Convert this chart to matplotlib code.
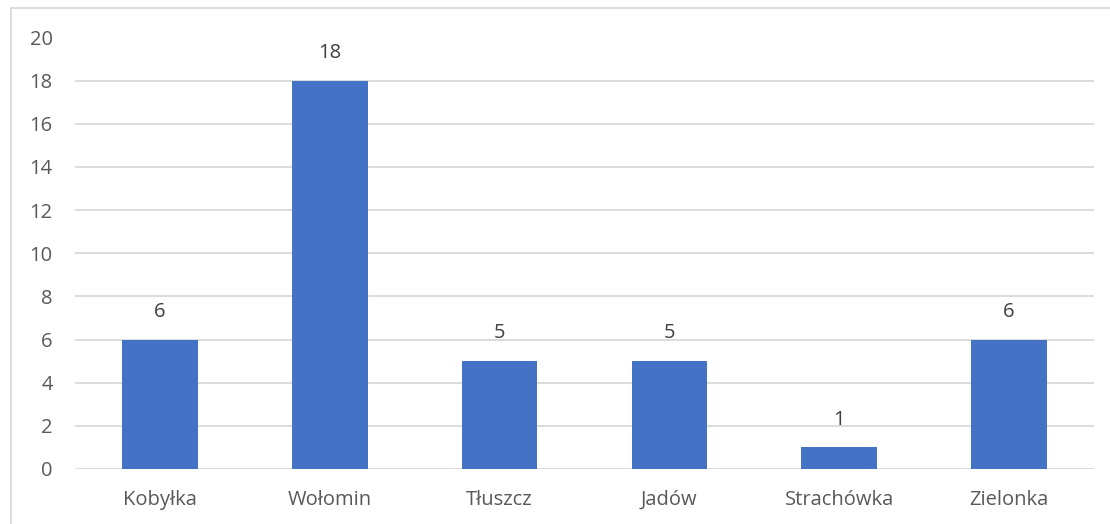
import matplotlib
matplotlib.use("Agg")
import matplotlib.pyplot as plt
from matplotlib.patches import Rectangle

categories = ["Kobyłka", "Wołomin", "Tłuszcz", "Jadów", "Strachówka", "Zielonka"]
values = [6, 18, 5, 5, 1, 6]
yticks = [0, 2, 4, 6, 8, 10, 12, 14, 16, 18, 20]

plt.rcParams['font.family'] = ['Open Sans', 'DejaVu Sans']
W, H = 1110, 524
fig = plt.figure(figsize=(W/100, H/100), dpi=100)
ax = fig.add_axes([75/W, 1-469/H, (1094-75)/W, (469-37.5)/H])

x = list(range(len(categories)))
bars = ax.bar(x, values, width=0.445, color="#4472c4", zorder=3)
ax.set_xlim(-0.5, len(categories)-0.5)
ax.set_ylim(0, 20)
ax.set_yticks(yticks)
ax.set_yticklabels([str(t) for t in yticks])
ax.set_xticks(x)
ax.set_xticklabels(categories)
ax.grid(axis="y", color="#d9d9d9", linewidth=1.3, zorder=0)
for s in ax.spines.values():
    s.set_visible(False)
ax.tick_params(axis="both", length=0, labelsize=14.5, colors="#595959")
ax.tick_params(axis="y", pad=16)
ax.tick_params(axis="x", pad=15)

for xi, v in zip(x, values):
    ax.annotate(str(v), (xi, v), xytext=(0, 20), textcoords="offset points",
                ha="center", va="center", fontsize=14.5, color="#404040")

fig.patches.append(Rectangle((10.5/W, -0.1), 1.2, 1-8.5/H+0.1, transform=fig.transFigure,
                             fill=False, edgecolor="#d9d9d9", linewidth=1.3, zorder=-1))
fig.savefig("out.png", dpi=100)
